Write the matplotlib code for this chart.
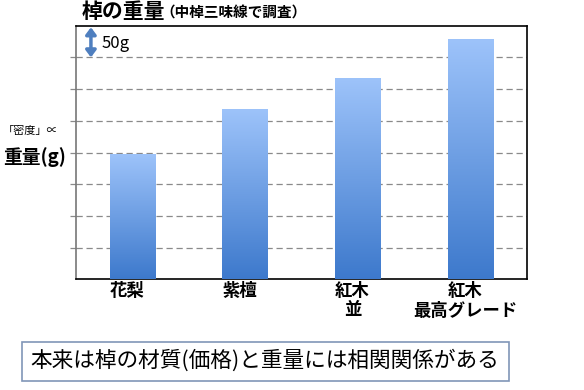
import matplotlib
matplotlib.use("Agg")
import matplotlib.pyplot as plt
import matplotlib.transforms as mtransforms
from matplotlib.patches import Rectangle
from matplotlib.colors import LinearSegmentedColormap
import numpy as np

plt.rcParams['font.family'] = ['Noto Sans CJK JP', 'DejaVu Sans']

categories = ['花梨', '紫檀', '紅木\n並', '紅木\n最高グレード']
weights = [3.94, 5.34, 6.31, 7.55]   # in units of 50 g (grid step)
grid_steps = [1, 2, 3, 4, 5, 6, 7]
title_main = '棹の重量'
title_sub = '（中棹三味線で調査）'
scale_label = '50g'
ylab_small = '「密度」∝'
ylab_big = '重量(g)'
conclusion = '本来は棹の材質(価格)と重量には相関関係がある'

fig = plt.figure(figsize=(5.84, 3.9), dpi=100)
ax = fig.add_axes([75.7/584, 1-279.3/390, (526.7-75.7)/584, (279.3-25.7)/390])

x = np.arange(len(categories))
bars = ax.bar(x, weights, width=0.40, color='none', edgecolor='none', zorder=3)

grad = np.linspace(0, 1, 256).reshape(-1, 1)
cmap = LinearSegmentedColormap.from_list('g', ['#3D79CC', '#9DC3FA'])
for b in bars:
    x0, w, h = b.get_x(), b.get_width(), b.get_height()
    ax.imshow(grad, extent=(x0, x0 + w, 0, h), origin='lower', cmap=cmap,
              aspect='auto', zorder=3)

ax.set_xlim(-0.5, len(categories) - 0.5)
ax.set_ylim(0, 8)
ax.set_yticks(grid_steps)
ax.set_yticklabels([])
ax.yaxis.grid(True, linestyle=(0, (5, 3)), color='#8a8a8a', linewidth=0.9, zorder=1)
ax.tick_params(axis='y', length=4, color='#8a8a8a', width=0.9)
ax.set_xticks(x)
ax.set_xticklabels(categories, fontsize=12.5, fontweight='bold', linespacing=1.1)
ax.tick_params(axis='x', length=0, pad=2)
offset = mtransforms.ScaledTranslation(-5/100, 0, fig.dpi_scale_trans)
for lbl in ax.get_xticklabels():
    lbl.set_transform(lbl.get_transform() + offset)
for s in ax.spines.values():
    s.set_linewidth(1.2)
    s.set_color('black')
ax.spines['left'].set_color('#777777')

# scale arrow
ax.annotate('', xy=(-0.365, 7.0), xytext=(-0.365, 7.95),
            arrowprops=dict(arrowstyle='<|-|>,head_length=0.4,head_width=0.3',
                            color='#4F7FBF', lw=2.5, shrinkA=0, shrinkB=0), zorder=4)
ax.text(-0.27, 7.45, scale_label, fontsize=12, va='center', ha='left')

# titles
fig.text(82/584, 1-12/390, title_main, fontsize=15, fontweight='bold', va='center', ha='left')
fig.text(160/584, 1-13/390, title_sub, fontsize=10.5, fontweight='bold', va='center', ha='left')

# y label
fig.text(3/584, 1-131/390, ylab_small, fontsize=8, va='center', ha='left')
fig.text(3/584, 1-157/390, ylab_big, fontsize=13.5, fontweight='bold', va='center', ha='left')

# conclusion box
fig.patches.append(Rectangle((22/584, 1-380.5/390), (509-22)/584, (380.5-342.3)/390,
                             transform=fig.transFigure, fill=False,
                             edgecolor='#8096B8', linewidth=1.2))
fig.text(265/584, 1-361/390, conclusion, fontsize=15.6, va='center', ha='center')

fig.savefig('out.png', dpi=100)
